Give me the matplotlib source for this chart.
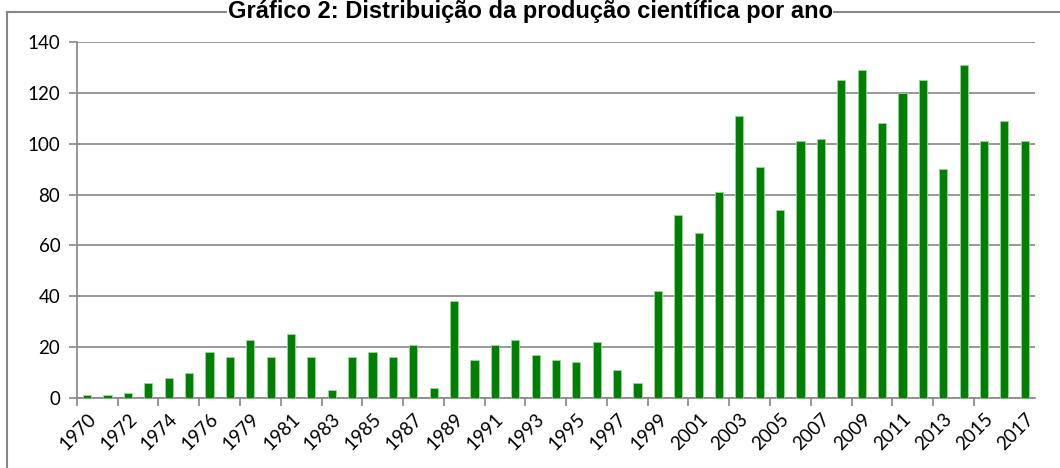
import matplotlib
matplotlib.use("Agg")
import matplotlib.pyplot as plt
from matplotlib.patches import Rectangle

# year labels as they appear on the category axis (one year is missing between 1976 and 1979)
YEARS = [
    "1970", "1971", "1972", "1973", "1974", "1975", "1976", "1978", "1979", "1980",
    "1981", "1982", "1983", "1984", "1985", "1986", "1987", "1988", "1989", "1990",
    "1991", "1992", "1993", "1994", "1995", "1996", "1997", "1998", "1999", "2000",
    "2001", "2002", "2003", "2004", "2005", "2006", "2007", "2008", "2009", "2010",
    "2011", "2012", "2013", "2014", "2015", "2016", "2017",
]
COUNTS = [
    1, 1, 2, 6, 8, 10, 18, 16, 23, 16,
    25, 16, 3, 16, 18, 16, 21, 4, 38, 15,
    21, 23, 17, 15, 14, 22, 11, 6, 42, 72,
    65, 81, 111, 91, 74, 101, 102, 125, 129, 108,
    120, 125, 90, 131, 101, 109, 101,
]
TITLE = "Gráfico 2: Distribuição da produção científica por ano"

GREEN = "#008000"
GRID = "#868686"

plt.rcParams["font.family"] = ["Lato", "DejaVu Sans"]

fig = plt.figure(figsize=(10.6, 4.68), dpi=100)
ax = fig.add_axes([0.0726, 0.1496, 0.9038, 0.7607])

x = list(range(len(YEARS)))
ax.bar(x, COUNTS, width=0.4, color=GREEN, edgecolor="#9fd49f", linewidth=0.6, zorder=3)

ax.set_xlim(-0.5, len(YEARS) - 0.5)
ax.set_ylim(0, 140)
ax.set_yticks(range(0, 141, 20))
ax.yaxis.grid(True, color=GRID, linewidth=1.2, zorder=0)

# tick marks sit on category boundaries every two bars, labels under every second bar
ax.set_xticks([i - 0.5 for i in range(0, len(YEARS) - 1, 2)])
ax.set_xticklabels([])
ax.set_xticks(x[::2], minor=True)
ax.set_xticklabels(YEARS[::2], minor=True, rotation=45, ha="right",
                   rotation_mode="anchor", fontsize=13.5)
ax.tick_params(axis="x", which="major", length=6, width=1.2, color=GRID, direction="out")
ax.tick_params(axis="x", which="minor", length=0, pad=9)
ax.tick_params(axis="y", length=6, width=1.2, color=GRID, labelsize=13.5, pad=6)

for side in ["top", "right"]:
    ax.spines[side].set_visible(False)
for side in ["left", "bottom"]:
    ax.spines[side].set_color(GRID)
    ax.spines[side].set_linewidth(1.2)

# outer chart frame, running off the bottom and right edges like the source
fig.patches.append(Rectangle((7 / 1060, -0.05), 1.1, (468 - 12) / 468 + 0.05,
                             transform=fig.transFigure, fill=False,
                             edgecolor=GRID, linewidth=1.5))

fig.text(0.5, 0.999, TITLE, ha="center", va="top", fontsize=17,
         fontweight="bold", family=["Liberation Sans", "DejaVu Sans"],
         bbox=dict(facecolor="white", edgecolor="none", pad=0.5))

fig.savefig("out.png", dpi=100)
